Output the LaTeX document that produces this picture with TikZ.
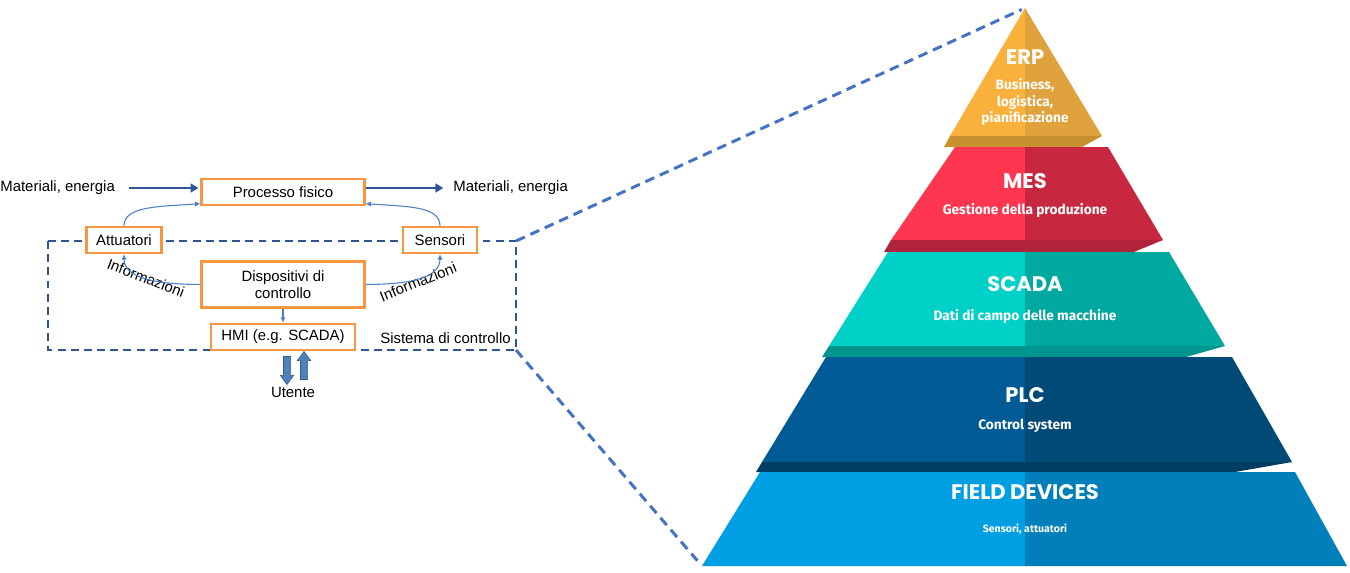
\documentclass[tikz,border=0pt]{standalone}
\usepackage{fontspec}
\setmainfont{Liberation Sans}
\newfontfamily\pyrfont{Poppins}
\newfontfamily\subfont{Fira Sans}
\usepackage{tikz}
\usetikzlibrary{arrows.meta,positioning}
\usetikzlibrary{shapes.arrows,calc}

\definecolor{boxorange}{HTML}{F7963F}
\definecolor{flowblue}{HTML}{2F5597}
\definecolor{infoblue}{HTML}{4A7EC8}
\definecolor{zoomblue}{HTML}{4472C4}
\definecolor{userblue}{HTML}{4F81BD}
\definecolor{userline}{HTML}{385D8A}
\definecolor{erpL}{HTML}{F9B13B}
\definecolor{erpR}{HTML}{E0A23C}
\definecolor{erpS}{HTML}{C99030}
\definecolor{mesL}{HTML}{FE364F}
\definecolor{mesR}{HTML}{C8283F}
\definecolor{mesS}{HTML}{B0233A}
\definecolor{scaL}{HTML}{00D1C8}
\definecolor{scaR}{HTML}{00A9A0}
\definecolor{scaS}{HTML}{00968D}
\definecolor{plcL}{HTML}{005A95}
\definecolor{plcR}{HTML}{004A78}
\definecolor{plcS}{HTML}{003D62}
\definecolor{fldL}{HTML}{009EE2}
\definecolor{fldR}{HTML}{007FBB}

\begin{document}
\begin{tikzpicture}[x=0.02cm, y=-0.02cm, font=\fontsize{8.5}{10}\selectfont]

\tikzstyle{block} = [rectangle, draw=boxorange, line width=1.4pt, fill=white, text centered, inner sep=0pt]
\tikzstyle{flow} = [draw=flowblue, line width=1.5pt, -{Triangle[length=4.5pt,width=5pt]}]
\tikzstyle{info} = [draw=infoblue, line width=0.6pt, -{Latex[length=3pt,width=3pt]}]
\tikzstyle{frame} = [draw=flowblue, line width=1.1pt, dash pattern=on 4.5pt off 3pt]
\tikzstyle{zoomline} = [draw=zoomblue, line width=1.7pt, dash pattern=on 5.5pt off 3.5pt]
\tikzstyle{user} = [single arrow, draw=userline, fill=userblue, line width=0.4pt, inner sep=0.065cm, minimum height=0.56cm, single arrow head extend=0.06cm, single arrow tip angle=72]
\tikzstyle{title} = [text=white, inner sep=0pt, font=\pyrfont\bfseries\fontsize{12}{13}\selectfont]
\tikzstyle{sub} = [text=white, inner sep=0pt, align=center, font=\subfont\bfseries\fontsize{7.8}{9.2}\selectfont]

\useasboundingbox (0,0) rectangle (1350,572);

% sistema di controllo
\draw [frame] (48,241) rectangle (516,350);
\coordinate (frameNE) at (516,241);
\coordinate (frameSE) at (516,350);

\node (proc) [block, minimum width=3.26cm, minimum height=0.52cm] at (283,192) {Processo fisico};
\node (disp) [block, below=1.08cm of proc, minimum width=3.26cm, minimum height=0.92cm, align=center] {Dispositivi di\\controllo};
\node (hmi) [block, below=0.28cm of disp, minimum width=2.88cm, minimum height=0.52cm] {HMI (e.g. SCADA)};
\node (att) [block, minimum width=1.5cm, minimum height=0.52cm] at (124,240) {Attuatori};
\node (sen) [block, minimum width=1.48cm, minimum height=0.52cm] at (440,240) {Sensori};
\node (matL) [anchor=west, inner sep=0pt] at (0,188) {Materiali, energia};
\node (matR) [anchor=west, inner sep=0pt] at (453,188) {Materiali, energia};
\node (sys) [anchor=east, inner sep=0pt] at (511,338) {Sistema di controllo};
\node (info1) [rotate=-21, inner sep=0pt] at (146,278) {Informazioni};
\node (info2) [rotate=22, inner sep=0pt] at (418,282) {Informazioni};
\node (down) [user, shape border rotate=270] at (287,368) {};
\node (up) [user, shape border rotate=90] at (304,368) {};
\node (utente) at (293,392) {Utente};

\draw [flow, shorten <=8pt, shorten >=1pt] (matL.east) -- (matL.east -| proc.west);
\draw [flow, shorten >=5.5pt] (matR.west -| proc.east) -- (matR.west);
\draw [info] (att.north) .. controls +(0,-20) and +(-40,3) .. (proc.188);
\draw [info] (sen.north) .. controls +(0,-20) and +(40,3) .. (proc.352);
\draw [info] (disp.west) .. controls +(-50,0) and +(0,22) .. (att.south);
\draw [info] (disp.east) .. controls +(50,0) and +(0,22) .. (sen.south);
\draw [info] (disp.south) -- (hmi.north);

% piramide
\coordinate (apex) at (1025,8);
\coordinate (fieldBL) at (702,566);
\fill [erpL] (apex) -- (950,136) -- (1025,136) -- cycle;
\fill [erpR] (apex) -- (1102,136) -- (1025,136) -- cycle;
\fill [erpS] (950,136) -- (1102,136) -- (1082,147) -- (944,147) -- cycle;
\fill [mesL] (955,147) -- (1025,147) -- (1025,240) -- (891,240) -- cycle;
\fill [mesR] (1025,147) -- (1108,147) -- (1163,240) -- (1025,240) -- cycle;
\fill [mesS] (891,240) -- (1163,240) -- (1134,252) -- (884,252) -- cycle;
\fill [scaL] (888,252) -- (1025,252) -- (1025,346) -- (829,346) -- cycle;
\fill [scaR] (1025,252) -- (1169,252) -- (1225,346) -- (1025,346) -- cycle;
\fill [scaS] (829,346) -- (1225,346) -- (1186,357) -- (822,357) -- cycle;
\fill [plcL] (826,357) -- (1025,357) -- (1025,462) -- (762,462) -- cycle;
\fill [plcR] (1025,357) -- (1232,357) -- (1292,462) -- (1025,462) -- cycle;
\fill [plcS] (762,462) -- (1292,462) -- (1235,472) -- (756,472) -- cycle;
\fill [fldL] (760,472) -- (1025,472) -- (1025,566) -- (fieldBL) -- cycle;
\fill [fldR] (1025,472) -- (1295,472) -- (1347,566) -- (1025,566) -- cycle;

\node (erp) [title] at (1025,57) {ERP};
\node (erpT) [sub] at (1025,102) {Business,\\logistica,\\pianificazione};
\node (mes) [title] at (1025,181) {MES};
\node (mesT) [sub] at (1025,210) {Gestione della produzione};
\node (scada) [title] at (1025,284) {SCADA};
\node (scadaT) [sub] at (1025,316) {Dati di campo delle macchine};
\node (plc) [title] at (1025,395) {PLC};
\node (plcT) [sub] at (1025,426) {Control system};
\node (field) [title] at (1025,492) {FIELD DEVICES};
\node (fieldT) [sub, font=\subfont\bfseries\fontsize{6}{7}\selectfont] at (1025,529) {Sensori, attuatori};

\draw [zoomline, shorten >=2pt] (frameNE) -- (apex);
\draw [zoomline, shorten >=4pt] (frameSE) -- (fieldBL);
\end{tikzpicture}
\end{document}
